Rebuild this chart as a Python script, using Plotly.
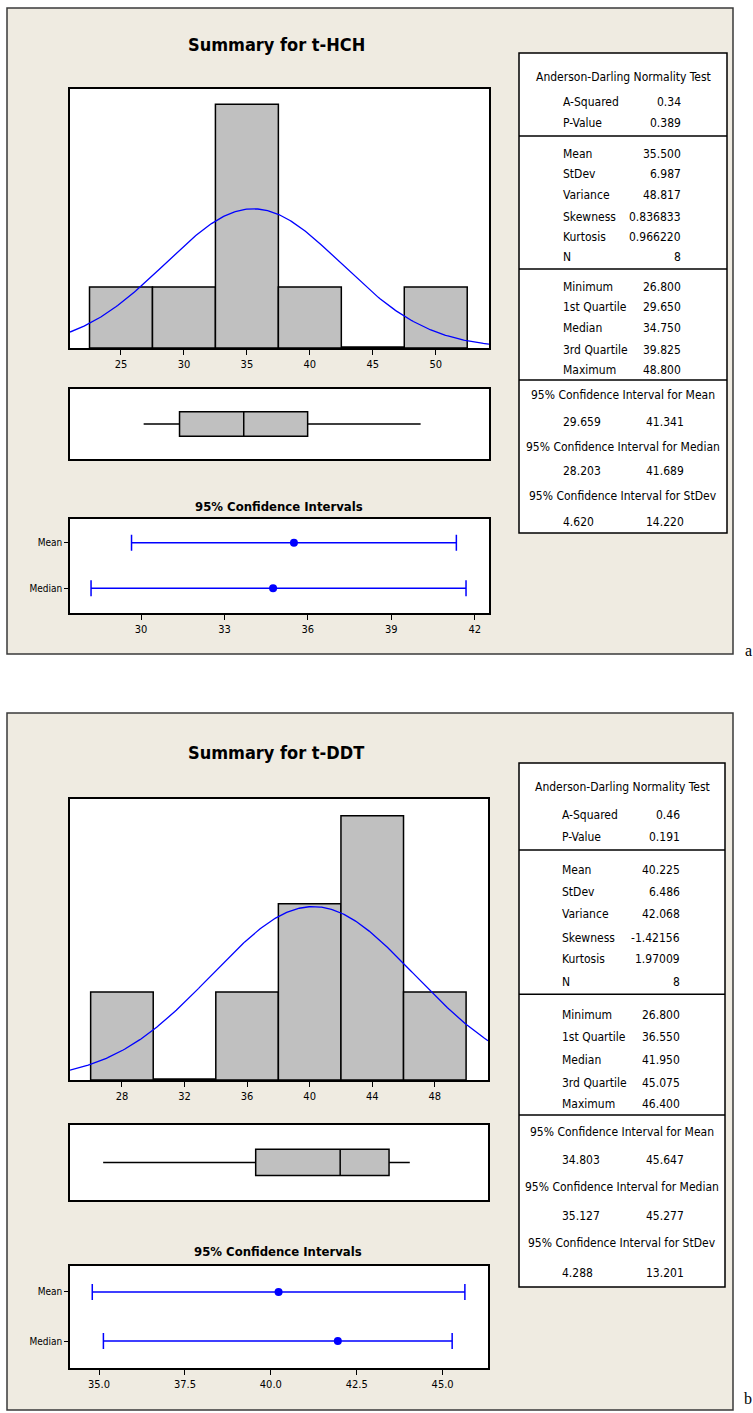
import numpy as np
import plotly.graph_objects as go

# ---------------- data ----------------
# t-HCH
hch_bin_centers = [25, 30, 35, 40, 45, 50]
hch_counts = [1, 1, 4, 1, 0, 1]
hch_bin_width = 5
hch_ad = [0.34, 0.389]                                   # A-Squared, P-Value
hch_moments = [35.500, 6.987, 48.817, 0.836833, 0.966220, 8]
hch_quartiles = [26.800, 29.650, 34.750, 39.825, 48.800]  # min, Q1, median, Q3, max
hch_ci = [(29.659, 41.341), (28.203, 41.689), (4.620, 14.220)]

# t-DDT
ddt_bin_centers = [28, 32, 36, 40, 44, 48]
ddt_counts = [1, 0, 1, 2, 3, 1]
ddt_bin_width = 4
ddt_ad = [0.46, 0.191]
ddt_moments = [40.225, 6.486, 42.068, -1.42156, 1.97009, 8]
ddt_quartiles = [26.800, 36.550, 41.950, 45.075, 46.400]
ddt_ci = [(34.803, 45.647), (35.127, 45.277), (4.288, 13.201)]

ad_labels = ["A-Squared", "P-Value"]
moment_labels = ["Mean", "StDev", "Variance", "Skewness", "Kurtosis", "N"]
quartile_labels = ["Minimum", "1st Quartile", "Median", "3rd Quartile", "Maximum"]
ci_labels = ["95% Confidence Interval for Mean",
             "95% Confidence Interval for Median",
             "95% Confidence Interval for StDev"]
ci_row_labels = ["Mean", "Median"]

# ---------------- page geometry (pixels) ----------------
W, H = 753, 1413
FONT = "DejaVu Sans Condensed, Liberation Sans Narrow, Arial Narrow, sans-serif"
BEIGE = "#EFEBE1"
GRAY = "#C0C0C0"
BLUE = "#0000FF"

panels = [
    dict(name="t-HCH", tag="a",
         bins=hch_bin_centers, counts=hch_counts, bw=hch_bin_width,
         ad=hch_ad, mom=hch_moments, qs=hch_quartiles, ci=hch_ci,
         frame=(7, 8, 733, 654), title_y=45,
         hist=(70, 89, 489, 348), box=(70, 389, 489, 459),
         ci_title_y=506, cibox=(70, 519, 489, 613),
         table=(519, 53, 727, 533),
         hdr_y=76.7, ad_y=[102.3, 123.3], div=[136, 269, 380],
         mom_y=[154, 174.3, 195, 216.7, 237.3, 257.3],
         q_y=[287.3, 307.3, 328.3, 349.5, 370],
         cih_y=[395, 447.3, 495.7], civ_y=[422.3, 471, 521.7],
         tx=(561, 683, 644, 623),
         hrange=[20.95, 54.23], hy=[0, 4.25], hdtick=5,
         cirange=[27.446, 42.515], ciy=[-0.54, 1.52], cidtick=3, cifmt="d",
         tag_xy=(743, 650)),
    dict(name="t-DDT", tag="b",
         bins=ddt_bin_centers, counts=ddt_counts, bw=ddt_bin_width,
         ad=ddt_ad, mom=ddt_moments, qs=ddt_quartiles, ci=ddt_ci,
         frame=(7, 713, 733, 1410), title_y=752,
         hist=(70, 799, 488, 1080), box=(70, 1125, 488, 1200),
         ci_title_y=1251, cibox=(70, 1266, 488, 1368),
         table=(519, 763, 725, 1287),
         hdr_y=786.7, ad_y=[815, 836.7], div=[850, 994.3, 1115],
         mom_y=[870, 892.3, 914, 938.3, 959.3, 981.7],
         q_y=[1015, 1036.7, 1060, 1082.7, 1104],
         cih_y=[1131.7, 1186.7, 1242.7], civ_y=[1160, 1216, 1272.7],
         tx=(560, 682, 644, 622),
         hrange=[24.68, 51.4], hy=[0, 3.19], hdtick=4,
         cirange=[34.155, 46.32], ciy=[-0.55, 1.53], cidtick=2.5, cifmt=".1f",
         tag_xy=(742, 1398)),
]


def px(x):
    return x / W


def py(y):
    return 1 - y / H


def xdom(r):
    return [r[0] / W, r[2] / W]


def ydom(r):
    return [1 - r[3] / H, 1 - r[1] / H]


def sig6(v):
    """Six significant digits, as in the descriptive statistics table."""
    whole = len(str(int(abs(v)))) if abs(v) >= 1 else 0
    return f"{v:.{6 - whole}f}"


fig = go.Figure()
layout = dict(width=W, height=H, margin=dict(l=0, r=0, t=0, b=0),
              paper_bgcolor=BEIGE, plot_bgcolor="white", showlegend=False,
              font=dict(family=FONT, size=11, color="black"))
shapes, annotations = [], []


def ann(x, y, text, size=12, anchor="center", bold=False, family=FONT):
    annotations.append(dict(
        x=px(x), y=py(y), xref="paper", yref="paper", showarrow=False,
        text=f"<b>{text}</b>" if bold else text, xanchor=anchor, yanchor="middle",
        font=dict(family=family, size=size, color="black")))


def rect(x0, y0, x1, y1, fill=None, line=None, width=1.5, layer="below"):
    shapes.append(dict(type="rect", xref="paper", yref="paper",
                       x0=px(x0), x1=px(x1), y0=py(y1), y1=py(y0),
                       fillcolor=fill if fill else "rgba(0,0,0,0)",
                       line=dict(color=line if line else "rgba(0,0,0,0)", width=width),
                       layer=layer))


def hline(x0, x1, y, width=1.5):
    shapes.append(dict(type="line", xref="paper", yref="paper",
                       x0=px(x0), x1=px(x1), y0=py(y), y1=py(y),
                       line=dict(color="black", width=width), layer="above"))


# white page around the two beige panels
rect(0, 0, W, 8, fill="white")
rect(0, 654, W, 713, fill="white")
rect(0, 1410, W, H, fill="white")
rect(0, 0, 7, H, fill="white")
rect(733, 0, W, H, fill="white")

axis_common = dict(showline=True, linecolor="black", linewidth=1.5, mirror=True,
                   showgrid=False, zeroline=False, fixedrange=True)

ax = 1
for p in panels:
    fx0, fy0, fx1, fy1 = p["frame"]
    rect(fx0, fy0, fx1, fy1, line="#3a3a3a", width=1.5, layer="above")
    ann((p["hist"][0] + p["hist"][2]) / 2 - 3, p["title_y"], f"Summary for {p['name']}",
        size=18, bold=True)
    ann(p["tag_xy"][0], p["tag_xy"][1], p["tag"], size=16, anchor="left",
        family="Liberation Serif, Times New Roman, serif")

    mean, sd = p["mom"][0], p["mom"][1]
    n = p["mom"][5]
    qmin, q1, qmed, q3, qmax = p["qs"]

    # --- histogram with fitted normal curve ---
    xa, ya = f"x{'' if ax == 1 else ax}", f"y{'' if ax == 1 else ax}"
    fig.add_trace(go.Bar(x=p["bins"], y=p["counts"], width=p["bw"],
                         marker=dict(color=GRAY, line=dict(color="black", width=1.5)),
                         xaxis=xa, yaxis=ya, hoverinfo="skip"))
    # empty bins are drawn as a heavy line on the baseline
    for c, k in zip(p["bins"], p["counts"]):
        if k == 0:
            fig.add_trace(go.Scatter(x=[c - p["bw"] / 2, c + p["bw"] / 2], y=[0, 0],
                                     mode="lines", line=dict(color="black", width=3.5),
                                     xaxis=xa, yaxis=ya, hoverinfo="skip", cliponaxis=False))
    xs = np.linspace(p["hrange"][0], p["hrange"][1], 300)
    dens = n * p["bw"] * np.exp(-0.5 * ((xs - mean) / sd) ** 2) / (sd * np.sqrt(2 * np.pi))
    fig.add_trace(go.Scatter(x=xs, y=dens, mode="lines",
                             line=dict(color=BLUE, width=1.3),
                             xaxis=xa, yaxis=ya, hoverinfo="skip"))
    layout[f"xaxis{'' if ax == 1 else ax}"] = dict(
        axis_common, domain=xdom(p["hist"]), range=p["hrange"], anchor=ya,
        ticks="outside", ticklen=5, tickwidth=1, tickcolor="black",
        tick0=0, dtick=p["hdtick"], tickfont=dict(size=11))
    layout[f"yaxis{'' if ax == 1 else ax}"] = dict(
        axis_common, domain=ydom(p["hist"]), range=p["hy"], anchor=xa,
        showticklabels=False, ticks="")
    ax += 1

    # --- box plot ---
    xa, ya = f"x{ax}", f"y{ax}"
    fig.add_trace(go.Box(y=[0], q1=[q1], median=[qmed], q3=[q3],
                         lowerfence=[qmin], upperfence=[qmax], orientation="h",
                         fillcolor=GRAY, line=dict(color="black", width=1.5),
                         whiskerwidth=0, width=0.35, boxpoints=False,
                         xaxis=xa, yaxis=ya, hoverinfo="skip"))
    layout[f"xaxis{ax}"] = dict(axis_common, domain=xdom(p["box"]), range=p["hrange"],
                                anchor=ya, showticklabels=False, ticks="")
    layout[f"yaxis{ax}"] = dict(axis_common, domain=ydom(p["box"]), range=[-0.5, 0.5],
                                anchor=xa, showticklabels=False, ticks="")
    ax += 1

    # --- 95% confidence intervals for mean and median ---
    xa, ya = f"x{ax}", f"y{ax}"
    centers = [mean, qmed]
    lows = [p["ci"][0][0], p["ci"][1][0]]
    highs = [p["ci"][0][1], p["ci"][1][1]]
    fig.add_trace(go.Scatter(
        x=centers, y=[1, 0], mode="markers",
        marker=dict(color=BLUE, size=8),
        error_x=dict(type="data", symmetric=False,
                     array=[h - c for h, c in zip(highs, centers)],
                     arrayminus=[c - l for l, c in zip(lows, centers)],
                     color=BLUE, thickness=1.5, width=8),
        xaxis=xa, yaxis=ya, hoverinfo="skip"))
    ann((p["cibox"][0] + p["cibox"][2]) / 2 - 1, p["ci_title_y"],
        "95% Confidence Intervals", size=13, bold=True)
    layout[f"xaxis{ax}"] = dict(
        axis_common, domain=xdom(p["cibox"]), range=p["cirange"], anchor=ya,
        ticks="outside", ticklen=5, tickwidth=1, tickcolor="black",
        tick0=0, dtick=p["cidtick"], tickformat=p["cifmt"], tickfont=dict(size=11))
    layout[f"yaxis{ax}"] = dict(
        axis_common, domain=ydom(p["cibox"]), range=p["ciy"], anchor=xa,
        tickmode="array", tickvals=[1, 0], ticktext=ci_row_labels,
        ticks="outside", ticklen=4, tickwidth=1, tickcolor="black",
        tickfont=dict(size=10))
    ax += 1

    # --- descriptive statistics table ---
    tx0, ty0, tx1, ty1 = p["table"]
    rect(tx0, ty0, tx1, ty1, fill="white", line="black", width=1.5, layer="below")
    for yv in p["div"]:
        hline(tx0, tx1, yv)
    lx, vx, cx2, cc = p["tx"]
    ann(cc, p["hdr_y"], "Anderson-Darling Normality Test")
    ad_text = [f"{p['ad'][0]:.2f}", f"{p['ad'][1]:.3f}"]
    for lab, val, yv in zip(ad_labels, ad_text, p["ad_y"]):
        ann(lx, yv, lab, anchor="left")
        ann(vx, yv, val, anchor="right")
    m = p["mom"]
    mom_text = [f"{m[0]:.3f}", f"{m[1]:.3f}", f"{m[2]:.3f}", sig6(m[3]), sig6(m[4]), f"{m[5]:d}"]
    for lab, val, yv in zip(moment_labels, mom_text, p["mom_y"]):
        ann(lx, yv, lab, anchor="left")
        ann(vx, yv, val, anchor="right")
    for lab, val, yv in zip(quartile_labels, p["qs"], p["q_y"]):
        ann(lx, yv, lab, anchor="left")
        ann(vx, yv, f"{val:.3f}", anchor="right")
    for lab, (lo, hi), yh, yv in zip(ci_labels, p["ci"], p["cih_y"], p["civ_y"]):
        ann(cc, yh, lab)
        ann(lx, yv, f"{lo:.3f}", anchor="left")
        ann(cx2, yv, f"{hi:.3f}", anchor="left")

layout["shapes"] = shapes
layout["annotations"] = annotations
fig.update_layout(**layout)
fig.write_html("out.html")
